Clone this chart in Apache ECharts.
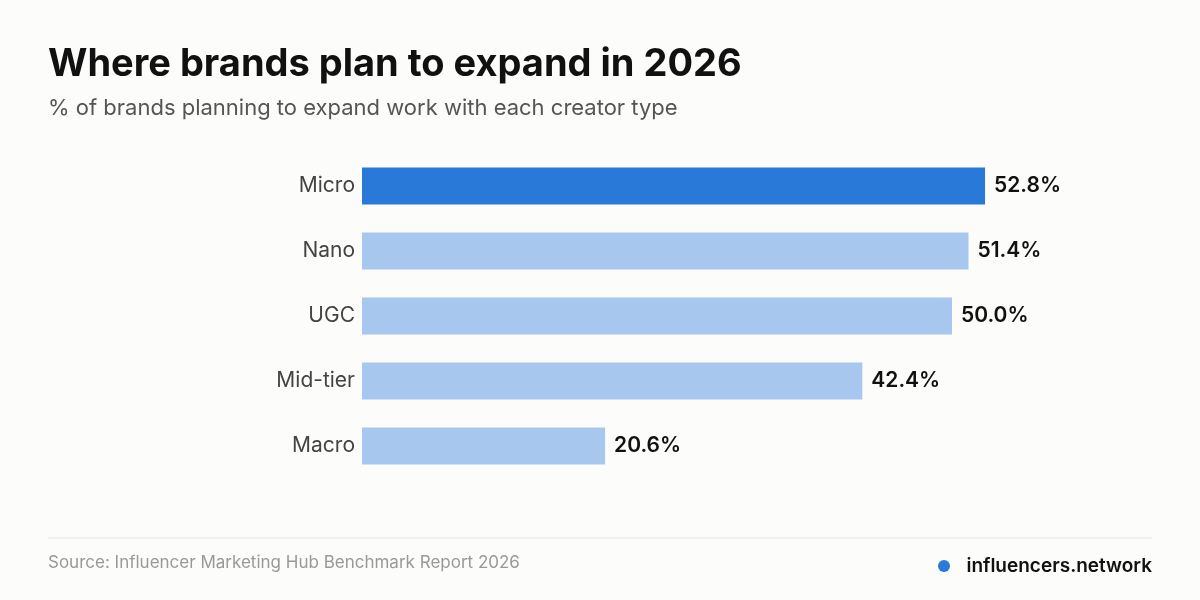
<!DOCTYPE html>
<html>
<head>
<meta charset="utf-8">
<script src="https://cdn.jsdelivr.net/npm/echarts@6/dist/echarts.min.js"></script>
<style>
  html, body { margin: 0; padding: 0; background: #fcfcfa; }
  #chart { width: 1200px; height: 600px; }
</style>
</head>
<body>
<div id="chart"></div>
<script>
var categories = ['Micro', 'Nano', 'UGC', 'Mid-tier', 'Macro'];
var values = [52.8, 51.4, 50.0, 42.4, 20.6];
var highlight = 'Micro';

var chart = echarts.init(document.getElementById('chart'));
var option = {
    backgroundColor: '#fcfcfa',
    textStyle: { fontFamily: 'Inter' },
    title: [
        {
            text: 'Where brands plan to expand in 2026',
            left: 48, top: 46, padding: 0,
            textStyle: { fontFamily: 'Inter', fontSize: 38, fontWeight: 'bold', color: '#111' }
        },
        {
            text: '% of brands planning to expand work with each creator type',
            left: 48, top: 97, padding: 0,
            textStyle: { fontFamily: 'Inter', fontSize: 22, fontWeight: 'normal', color: '#555' }
        },
        {
            text: 'Source: Influencer Marketing Hub Benchmark Report 2026',
            left: 48, top: 554, padding: 0,
            textStyle: { fontFamily: 'Inter', fontSize: 17, fontWeight: 'normal', color: '#999' }
        },
        {
            text: 'influencers.network',
            right: 48, top: 557, padding: 0,
            textStyle: { fontFamily: 'Inter', fontSize: 19, fontWeight: 600, color: '#111' }
        }
    ],
    graphic: [
        { type: 'line', shape: { x1: 48, y1: 538, x2: 1152, y2: 538 }, style: { stroke: '#e3e3e0', lineWidth: 1 } },
        { type: 'circle', shape: { cx: 944, cy: 566, r: 6 }, style: { fill: '#2979d8' } }
    ],
    grid: { left: 362, right: 130, top: 153.5, bottom: 121.5 },
    xAxis: {
        type: 'value', min: 0, max: 60, show: false
    },
    yAxis: {
        type: 'category',
        data: categories,
        inverse: true,
        axisLine: { show: false },
        axisTick: { show: false },
        axisLabel: { fontFamily: 'Inter', fontSize: 21, color: '#444', margin: 7 }
    },
    series: [{
        type: 'bar',
        barWidth: 37,
        data: values.map(function (v, i) {
            return {
                value: v,
                itemStyle: { color: categories[i] === highlight ? '#2979d8' : '#a8c7ee' }
            };
        }),
        label: {
            show: true,
            position: 'right',
            distance: 9,
            formatter: function (p) { return p.value.toFixed(1) + '%'; },
            fontFamily: 'Inter', fontSize: 21, fontWeight: 600, color: '#111'
        }
    }]
};
chart.setOption(option);
</script>
</body>
</html>
